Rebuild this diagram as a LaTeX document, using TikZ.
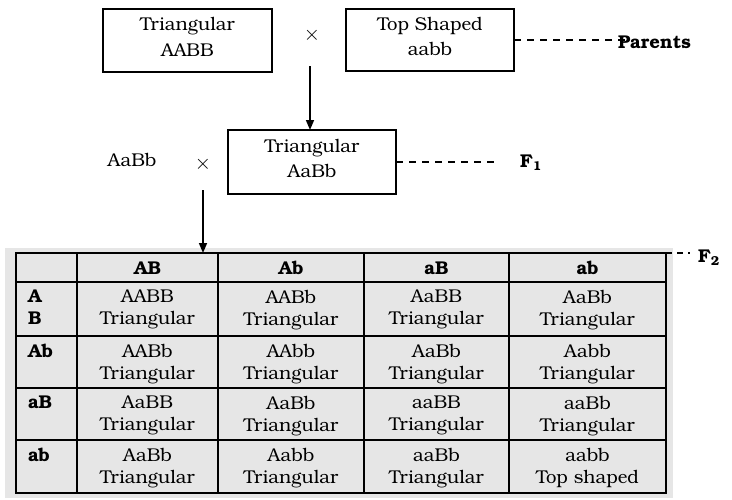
\documentclass[tikz,border=0pt]{standalone}
\usepackage{fontspec}
\setmainfont{TeX Gyre Bonum}
\usetikzlibrary{arrows.meta}
\definecolor{cellgray}{HTML}{E6E6E6}
\begin{document}
\begin{tikzpicture}[x=1pt,y=-1pt,
  every node/.style={inner sep=0pt, outer sep=0pt, font=\fontsize{18.5}{22}\selectfont},
  box/.style={draw, line width=1.5pt, align=center, text depth=7pt,
    font=\fontsize{18.5}{25.5}\selectfont},
  lbl/.style={font=\fontsize{18.5}{22}\selectfont\bfseries},
  cross/.style={font=\fontsize{20}{22}\selectfont},
  cell/.style={align=center, anchor=north},
  hdr/.style={anchor=base, font=\fontsize{18.5}{22}\selectfont\bfseries},
  rowl/.style={anchor=north west, align=left, font=\fontsize{18.5}{22}\selectfont\bfseries},
  arr/.style={line width=1.5pt, -{Triangle[length=10pt,width=8pt]}},
  dsh/.style={line width=1.3pt, dash pattern=on 7pt off 6pt},
  gridline/.style={line width=2pt}
]
\useasboundingbox (0,0) rectangle (732,499);

% parents
\node[box, minimum width=169pt, minimum height=63pt] (p1) at (187.5,40.5) {Triangular\\AABB};
\node[box, minimum width=168pt, minimum height=62pt] (p2) at (430,40) {Top Shaped\\aabb};
\node[cross] (x1) at (312,35) {$\times$};
\node[lbl, anchor=west] (par) at (618,42) {Parents};
\draw[dsh] (p2.east) -- ([xshift=8pt]par.west |- p2.east);

% F1
\node[box, minimum width=168pt, minimum height=64pt] (f1) at (312,162) {Triangular\\AaBb};
\coordinate (a1) at (310,66);
\draw[arr] (a1) -- (a1 |- f1.north);
\node (g) at (132,160) {AaBb};
\node[cross] (x2) at (203,164) {$\times$};
\node[lbl] (F1) at (531,163) {F\textsubscript{1}};
\draw[dsh] (f1.east) -- ([xshift=-22pt]F1.west |- f1.east);

% table
\node[fill=cellgray, minimum width=668pt, minimum height=250pt] (bg) at (339,373) {};
\node[draw, line width=2pt, minimum width=650pt, minimum height=240pt] (tbl) at (341,373) {};
\foreach \x in {77,218,364,509} \draw[gridline] (\x,253) -- (\x,493);
\foreach \y in {282,336,388,440} \draw[gridline] (16,\y) -- (666,\y);

\coordinate (a2) at (203,190);
\draw[arr] (a2) -- (a2 |- tbl.north);

\node[lbl] (F2) at (709,258) {F\textsubscript{2}};
\draw[line width=1.3pt, dash pattern=on 6pt off 5pt] (tbl.north east) -- ([xshift=-8pt]F2.west |- tbl.north east);

% header
\node[hdr] (hAB) at (147.5,274) {AB};
\node[hdr] (hAb) at (291,274) {Ab};
\node[hdr] (haB) at (436.5,274) {aB};
\node[hdr] (hab) at (587.5,274) {ab};

% row labels
\node[rowl] (r1) at (28,290) {A\\B};
\node[rowl] (r2) at (28,344) {Ab};
\node[rowl] (r3) at (28,396) {aB};
\node[rowl] (r4) at (28,448) {ab};

% cells row 1
\node[cell] (c11) at (147.5,290) {AABB\\Triangular};
\node[cell] (c12) at (291,290) {AABb\\Triangular};
\node[cell] (c13) at (436.5,290) {AaBB\\Triangular};
\node[cell] (c14) at (587.5,290) {AaBb\\Triangular};
% row 2
\node[cell] (c21) at (147.5,344) {AABb\\Triangular};
\node[cell] (c22) at (291,344) {AAbb\\Triangular};
\node[cell] (c23) at (436.5,344) {AaBb\\Triangular};
\node[cell] (c24) at (587.5,344) {Aabb\\Triangular};
% row 3
\node[cell] (c31) at (147.5,396) {AaBB\\Triangular};
\node[cell] (c32) at (291,396) {AaBb\\Triangular};
\node[cell] (c33) at (436.5,396) {aaBB\\Triangular};
\node[cell] (c34) at (587.5,396) {aaBb\\Triangular};
% row 4
\node[cell] (c41) at (147.5,448) {AaBb\\Triangular};
\node[cell] (c42) at (291,448) {Aabb\\Triangular};
\node[cell] (c43) at (436.5,448) {aaBb\\Triangular};
\node[cell] (c44) at (587.5,448) {aabb\\Top shaped};
\end{tikzpicture}
\end{document}
